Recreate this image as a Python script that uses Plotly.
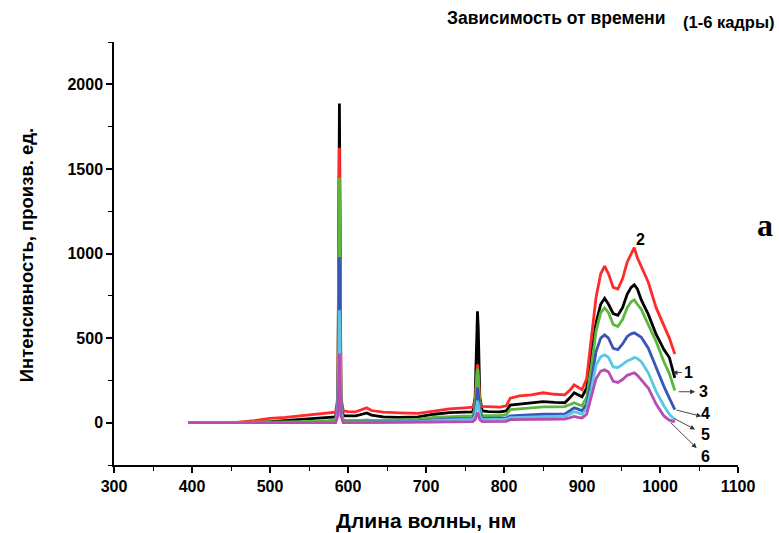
import plotly.graph_objects as go

# Wavelength grid (nm)
wavelength = [395, 430, 460, 480, 500, 520, 540, 560, 575, 584, 587, 589, 591, 594, 600, 610,
              618, 624, 630, 645, 665, 690, 710, 730, 750, 760, 763, 765, 766, 767, 769, 772,
              780, 795, 803, 808, 820, 835, 850, 865, 878, 885, 890, 895, 900, 906, 912, 918,
              924, 929, 934, 940, 946, 952, 958, 963, 967, 971, 976, 985, 995, 1005, 1012, 1019]

# Intensities (arb. units), frames 1..6
int_1 = [0, 0, 0, 2, 6, 12, 18, 25, 30, 34, 120, 1886, 120, 42, 40, 40,
         50, 58, 45, 35, 32, 35, 50, 60, 62, 64, 150, 560, 658, 560, 150, 70,
         66, 64, 70, 104, 110, 118, 124, 120, 118, 150, 177, 165, 153, 205, 400, 590,
         700, 735, 700, 645, 635, 680, 760, 800, 815, 790, 726, 640, 523, 432, 385, 265]
int_2 = [0, 0, 3, 12, 25, 32, 40, 48, 56, 62, 150, 1625, 150, 70, 66, 64,
         78, 88, 72, 62, 58, 55, 68, 82, 88, 92, 130, 300, 344, 300, 130, 96,
         95, 92, 100, 145, 158, 165, 177, 168, 165, 195, 224, 210, 195, 260, 500, 740,
         880, 925, 880, 800, 790, 850, 950, 1000, 1035, 975, 925, 830, 680, 575, 500, 405]
int_3 = [0, 0, 0, 0, 2, 4, 6, 8, 12, 15, 100, 1447, 100, 15, 14, 13,
         14, 16, 14, 14, 15, 20, 32, 37, 38, 40, 90, 270, 320, 270, 90, 42,
         42, 42, 48, 77, 82, 88, 94, 94, 95, 108, 118, 108, 100, 150, 330, 540,
         650, 678, 650, 580, 568, 610, 680, 715, 726, 700, 670, 580, 480, 360, 290, 190]
int_4 = [0, 0, 0, 0, 0, 0, 1, 1, 2, 2, 80, 979, 80, 3, 3, 3,
         3, 4, 4, 5, 6, 10, 18, 22, 24, 24, 60, 175, 208, 175, 60, 25,
         25, 26, 28, 41, 44, 47, 50, 50, 52, 72, 88, 80, 70, 110, 250, 420,
         500, 519, 500, 440, 432, 465, 510, 525, 531, 520, 505, 440, 325, 215, 145, 77]
int_5 = [0, 0, 0, 0, 0, 0, 0, 0, 1, 1, 60, 664, 60, 2, 2, 2,
         2, 2, 2, 3, 4, 7, 13, 17, 18, 18, 40, 110, 130, 110, 40, 18,
         18, 19, 21, 30, 32, 34, 36, 37, 38, 52, 65, 58, 50, 80, 200, 340,
         390, 401, 385, 330, 326, 345, 365, 375, 385, 380, 360, 295, 185, 100, 50, 18]
int_6 = [0, 0, 0, 0, 0, 0, 0, 0, 0, 0, 40, 409, 40, 0, 0, 0,
         0, 0, 0, 0, 1, 2, 4, 5, 6, 6, 18, 50, 59, 50, 18, 6,
         6, 6, 8, 18, 18, 19, 20, 21, 22, 30, 37, 32, 28, 50, 150, 260,
         305, 313, 300, 245, 238, 255, 280, 290, 295, 280, 255, 205, 110, 40, 15, 5]

series = [int_1, int_2, int_3, int_4, int_5, int_6]
frame_names = ["1", "2", "3", "4", "5", "6"]
colors = ["#000000", "#ff2a2a", "#5cb83c", "#3a55b8", "#5ac8e4", "#b84cb0"]

x_ticks = [300, 400, 500, 600, 700, 800, 900, 1000, 1100]
y_ticks = [0, 500, 1000, 1500, 2000]

FONT = "Liberation Sans, Arial, sans-serif"

fig = go.Figure()
for vals, name, col in zip(series, frame_names, colors):
    fig.add_trace(go.Scatter(x=wavelength, y=vals, mode="lines", name=name,
                             line=dict(color=col, width=2.8), showlegend=False))

axis_common = dict(showgrid=False, zeroline=False, showline=True, linecolor="black",
                   linewidth=1.5, ticks="outside", ticklen=6, tickwidth=1.5, tickcolor="black",
                   tickfont=dict(family=FONT, size=16, color="black"))

fig.update_xaxes(range=[300, 1100], tickvals=x_ticks, ticktext=[f"<b>{v}</b>" for v in x_ticks],
                 minor=dict(dtick=50, tick0=300, ticks="outside", ticklen=4, tickwidth=1.2, tickcolor="black"),
                 **axis_common)
fig.update_yaxes(range=[-250, 2250], tickvals=y_ticks, ticktext=[f"<b>{v}</b>" for v in y_ticks],
                 minor=dict(dtick=250, tick0=-250, ticks="outside", ticklen=4, tickwidth=1.2, tickcolor="black"),
                 **axis_common)

ann = []
# axis titles
ann.append(dict(text="<b>Длина волны, нм</b>", xref="paper", yref="paper", x=0.5, y=-0.132,
                xanchor="center", yanchor="middle", showarrow=False,
                font=dict(family=FONT, size=21, color="black")))
ann.append(dict(text="<b>Интенсивность, произв. ед.</b>", xref="paper", yref="paper", x=-0.141, y=0.496,
                xanchor="center", yanchor="middle", showarrow=False, textangle=-90,
                font=dict(family=FONT, size=18.5, color="black")))
# header (two parts, second slightly lower as in the original)
ann.append(dict(text="<b>Зависимость от времени</b>", xref="paper", yref="paper",
                x=0.886, y=1.057, xanchor="right", yanchor="middle", showarrow=False,
                font=dict(family=FONT, size=17.5, color="black")))
ann.append(dict(text="<b>(1-6 кадры)</b>", xref="paper", yref="paper",
                x=1.062, y=1.047, xanchor="right", yanchor="middle", showarrow=False,
                font=dict(family=FONT, size=16.5, color="black")))
# panel letter
ann.append(dict(text="<b>а</b>", xref="paper", yref="paper", x=1.043, y=0.567,
                xanchor="center", yanchor="middle", showarrow=False,
                font=dict(family="Liberation Serif, Times New Roman, serif", size=32, color="black")))

# curve labels
label_pos = {"1": (1036, 295), "2": (975, 1080), "3": (1056, 183), "4": (1058, 53),
             "5": (1058, -71), "6": (1058, -200)}
for name, (lx, ly) in label_pos.items():
    ann.append(dict(text=f"<b>{name}</b>", x=lx, y=ly, xref="x", yref="y", showarrow=False,
                    xanchor="center", yanchor="middle",
                    font=dict(family=FONT, size=16, color="black")))

# leader arrows: (head_x, head_y, tail_x, tail_y)
arrows = [(1016, 295, 1030, 297), (1045, 183, 1022, 183), (1053, 38, 1019, int_4[-1]),
          (1045, -40, 1016, 30), (1047, -150, 1012, 8)]
for hx, hy, tx, ty in arrows:
    ann.append(dict(text="", x=hx, y=hy, ax=tx, ay=ty, xref="x", yref="y", axref="x", ayref="y",
                    showarrow=True, arrowhead=2, arrowsize=1.1, arrowwidth=0.9, arrowcolor="#333333"))

fig.update_layout(width=779, height=533, margin=dict(l=114, r=41, t=42, b=68),
                  paper_bgcolor="white", plot_bgcolor="white", annotations=ann)

fig.write_html("out.html", config={"displayModeBar": False},
               post_script="document.body.style.margin='0px';document.body.style.overflow='hidden';")
